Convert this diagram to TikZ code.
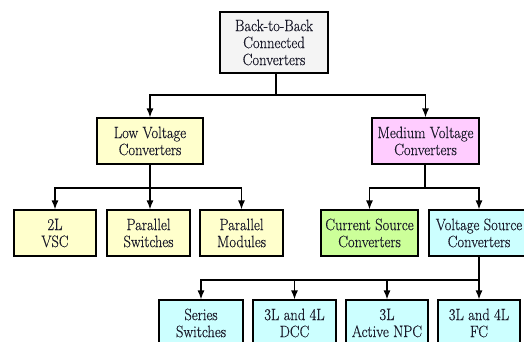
\documentclass[tikz,border=0pt]{standalone}
\usepackage{fontspec}
\setmainfont{Latin Modern Roman}[FakeStretch=0.88,FakeBold=0.4]
\usetikzlibrary{arrows.meta}
\definecolor{topfill}{HTML}{F4F4F4}
\definecolor{lvfill}{HTML}{FFFFCC}
\definecolor{mvfill}{HTML}{FFCCFF}
\definecolor{csfill}{HTML}{CCFF99}
\definecolor{vsfill}{HTML}{CCFFFF}
\definecolor{txt}{HTML}{1A1A2A}
\begin{document}
\begin{tikzpicture}[x=1pt,y=-1pt,
  box/.style={draw=black,line width=1.1pt,minimum height=46pt,inner sep=0pt,
    align=center,text=txt,font=\fontsize{16.5}{17}\selectfont},
  conn/.style={line width=1.4pt,draw=black},
  arr/.style={conn,-{Latex[length=9pt,width=7pt]}}]
\useasboundingbox (0,0) rectangle (524,341);
\clip (0,0) rectangle (524,341);
\node[box,fill=topfill,minimum width=108pt,minimum height=61pt] (top) at (274,42.5) {Back-to-Back\\Connected\\Converters};
\node[box,fill=lvfill,minimum width=106pt] (lv) at (150,141) {Low Voltage\\Converters};
\node[box,fill=mvfill,minimum width=107pt] (mv) at (425.5,141) {Medium Voltage\\Converters};
\node[box,fill=lvfill,minimum width=82pt] (vsc) at (55,233) {2L\\VSC};
\node[box,fill=lvfill,minimum width=83pt] (psw) at (148.5,233) {Parallel\\Switches};
\node[box,fill=lvfill,minimum width=83pt] (pmod) at (241.5,233) {Parallel\\Modules};
\node[box,fill=csfill,minimum width=97pt] (cs) at (369.5,233) {Current Source\\Converters};
\node[box,fill=vsfill,minimum width=100pt] (vs) at (479,233) {Voltage Source\\Converters};
\node[box,fill=vsfill,minimum width=84pt] (ss) at (201,323) {Series\\Switches};
\node[box,fill=vsfill,minimum width=83pt] (dcc) at (294.5,323) {3L and 4L\\DCC};
\node[box,fill=vsfill,minimum width=82pt] (npc) at (387,323) {3L\\Active NPC};
\node[box,fill=vsfill,minimum width=82pt] (fc) at (479,323) {3L and 4L\\FC};
\coordinate (j1) at (276,95);
\coordinate (j2) at (150,188);
\coordinate (j3) at (425,188);
\coordinate (j4) at (479,280);
\draw[conn] (top.south -| j1) -- (j1);
\draw[arr] (j1) -| (lv.north);
\draw[arr] (j1) -| (mv.north);
\draw[conn] (lv.south) -- (j2);
\draw[arr] (j2) -| (vsc.north);
\draw[arr] (j2) -- (psw.north -| j2);
\draw[arr] (j2) -| (pmod.north);
\draw[conn] (mv.south -| j3) -- (j3);
\draw[arr] (j3) -| (cs.north);
\draw[arr] (j3) -| (vs.north);
\draw[conn] (vs.south) -- (j4);
\draw[arr] (j4) -| (ss.north);
\draw[arr] (j4) -| (dcc.north);
\draw[arr] (j4) -| (npc.north);
\draw[arr] (j4) -- (fc.north);
\end{tikzpicture}
\end{document}
